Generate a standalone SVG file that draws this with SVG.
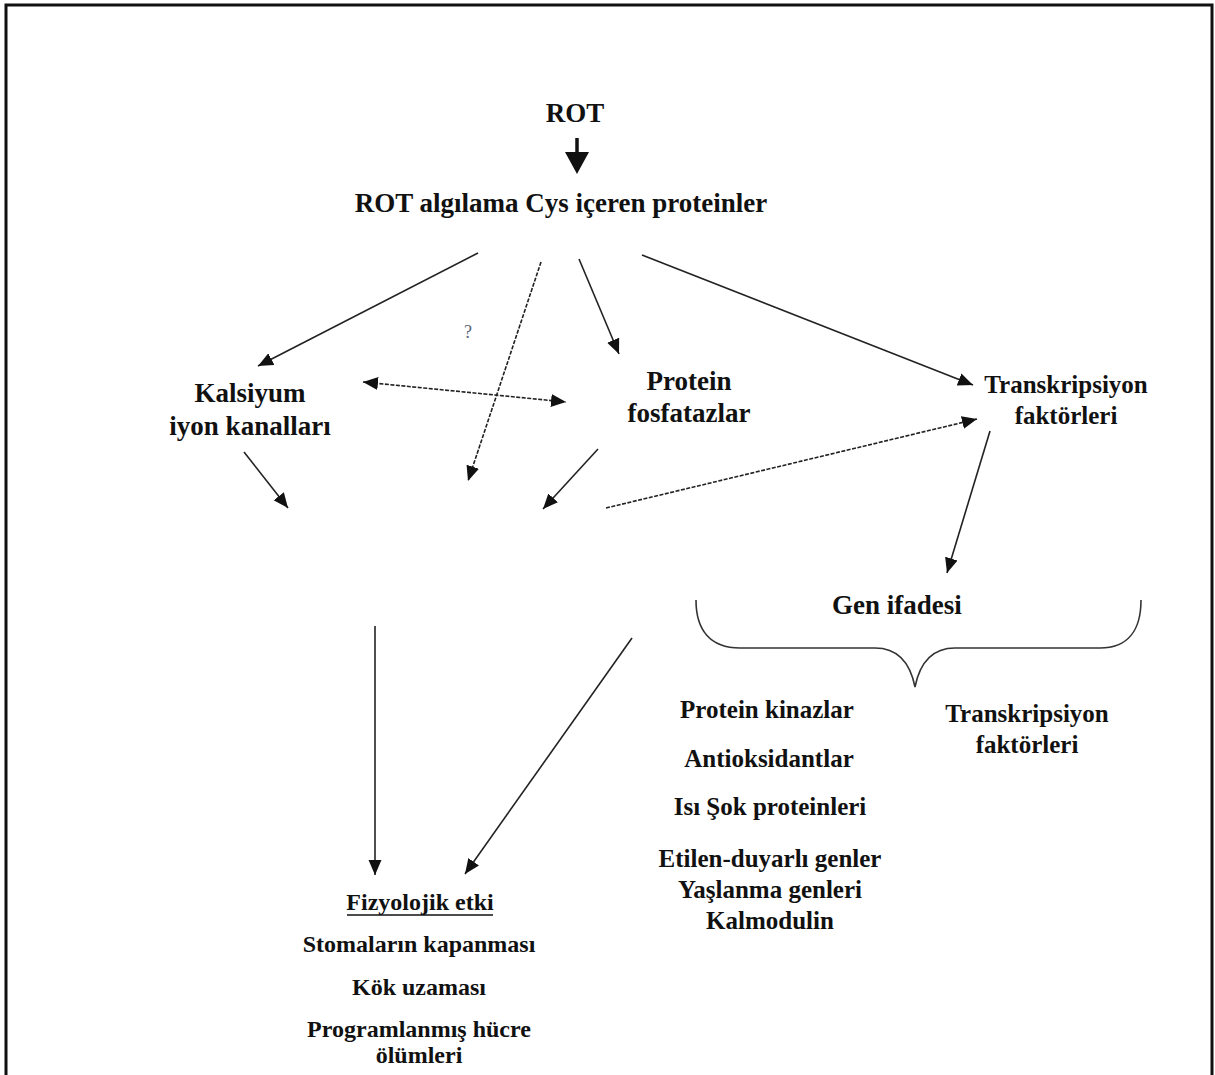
<svg xmlns="http://www.w3.org/2000/svg" width="1215" height="1075" viewBox="0 0 1215 1075">
<style>
text{font-family:"Liberation Serif","Times New Roman",serif;font-weight:bold;fill:#111;text-anchor:middle}
.l{font-size:27px}
.m{font-size:25px}
.s{font-size:24px}
.c{stroke:#222;stroke-width:1.6;fill:none;marker-end:url(#ah)}
.d{stroke-dasharray:4 1.5}
.q{font-size:18px;font-weight:normal;fill:#5a6478}
</style>
<defs>
<marker id="ah" markerUnits="userSpaceOnUse" markerWidth="16" markerHeight="14" refX="15" refY="6.5" orient="auto-start-reverse" viewBox="0 0 16 13">
<path d="M0,0 L15,6.5 L0,13 z" fill="#111"/>
</marker>
</defs>
<rect width="1215" height="1075" fill="#fff"/>
<path d="M6,1075 V5 H1212 V1075" fill="none" stroke="#111" stroke-width="3"/>

<g id="rot"><text class="l" x="575" y="122">ROT</text></g>
<g id="rot-sensing"><text class="l" x="561" y="212">ROT algılama Cys içeren proteinler</text></g>
<g id="calcium"><text class="l" x="250" y="402">Kalsiyum</text><text class="l" x="250" y="435">iyon kanalları</text></g>
<g id="phosphatase"><text class="l" x="689" y="390">Protein</text><text class="l" x="689" y="422">fosfatazlar</text></g>
<g id="tf-top"><text class="m" x="1066" y="393">Transkripsiyon</text><text class="m" x="1066" y="424">faktörleri</text></g>
<g id="gene"><text class="l" x="897" y="614">Gen ifadesi</text>
<path d="M696,600 C696,630 710,648 740,648 L875,648 C898,648 910,662 915,687 C920,662 932,648 955,648 L1100,648 C1128,648 1141,630 1141,600" fill="none" stroke="#333" stroke-width="1.6"/></g>
<g id="gene-list">
<text class="m" x="767" y="718">Protein kinazlar</text>
<text class="m" x="769" y="767">Antioksidantlar</text>
<text class="m" x="770" y="815">Isı Şok proteinleri</text>
<text class="m" x="770" y="867">Etilen-duyarlı genler</text>
<text class="m" x="770" y="898">Yaşlanma genleri</text>
<text class="m" x="770" y="929">Kalmodulin</text>
</g>
<g id="tf-bottom"><text class="m" x="1027" y="722">Transkripsiyon</text><text class="m" x="1027" y="753">faktörleri</text></g>
<g id="physio">
<text class="s" x="420" y="910">Fizyolojik etki</text>
<line x1="347" y1="915" x2="493" y2="915" stroke="#111" stroke-width="1.5"/>
<text class="s" x="419" y="952">Stomaların kapanması</text>
<text class="s" x="419" y="995">Kök uzaması</text>
<text class="s" x="419" y="1037">Programlanmış hücre</text>
<text class="s" x="419" y="1063">ölümleri</text>
</g>
<g id="question"><text class="q" x="468" y="338">?</text></g>

<g id="connectors">
<line x1="577" y1="138" x2="577" y2="156" stroke="#111" stroke-width="3.5"/>
<polygon points="565,152 589,152 577,174" fill="#111"/>
<line class="c" x1="478" y1="253" x2="258" y2="366"/>
<line class="c d" x1="541" y1="262" x2="468" y2="481"/>
<line class="c" x1="579" y1="259" x2="619" y2="354"/>
<line class="c" x1="642" y1="255" x2="973" y2="385"/>
<line class="c d" x1="363" y1="382" x2="566" y2="402" marker-start="url(#ah)"/>
<line class="c" x1="244" y1="452" x2="288" y2="508"/>
<line class="c" x1="598" y1="449" x2="543" y2="509"/>
<line class="c d" x1="606" y1="508" x2="977" y2="419"/>
<line class="c" x1="990" y1="431" x2="947" y2="573"/>
<line class="c" x1="375" y1="626" x2="375" y2="875"/>
<line class="c" x1="632" y1="638" x2="465" y2="874"/>
</g>
</svg>
